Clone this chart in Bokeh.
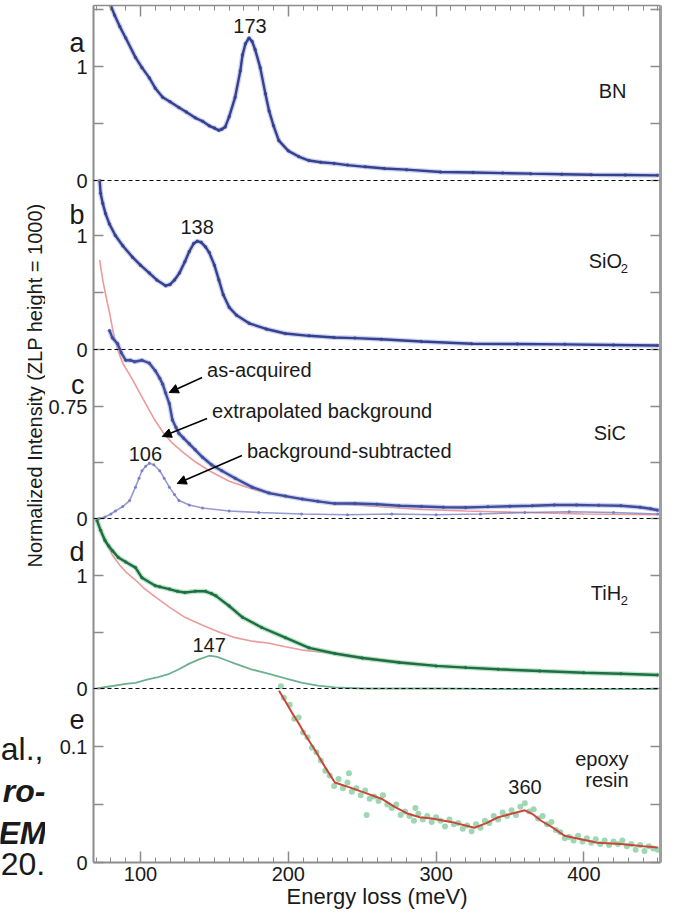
import math
from bokeh.plotting import figure
from bokeh.layouts import row
from bokeh.models import Range1d, LinearAxis, FixedTicker, Label, Arrow, NormalHead, Span
from bokeh.embed import file_html
from bokeh.resources import INLINE

# ---------------- data: energy loss (meV) and normalized intensity ----------------
# (a) BN
bn_energy = [80, 82.5, 86, 90, 96.6, 101, 106, 110, 115, 120, 126, 131, 137, 142, 146.5, 150, 153, 155,
             157.3, 160, 164, 167.5, 169, 171, 173.4, 175.5, 177.5, 181, 184.5, 187, 190, 193.6, 200, 207,
             214, 222, 231, 240, 252, 265, 280, 303, 325, 345, 364, 385, 405, 428, 450]
bn_intensity = [1.53, 1.45, 1.35, 1.25, 1.08, 0.99, 0.90, 0.81, 0.73, 0.69, 0.64, 0.60, 0.55, 0.52, 0.48, 0.46,
                0.44, 0.45, 0.47, 0.56, 0.73, 0.96, 1.10, 1.20, 1.25, 1.22, 1.15, 0.99, 0.76, 0.61, 0.48, 0.35,
                0.26, 0.21, 0.175, 0.16, 0.15, 0.135, 0.12, 0.105, 0.095, 0.075, 0.07, 0.065, 0.06, 0.055,
                0.05, 0.048, 0.045]

# (b) SiO2
sio2_energy = [72.4, 73, 74.5, 76.4, 79, 83, 88, 94.6, 100, 106, 111, 117, 120, 123, 126.3, 130, 133, 136,
               138.4, 141, 144, 146.5, 150, 153, 156, 160, 165, 173.5, 185, 198, 214, 231, 245, 263, 290,
               324, 355, 387, 420, 450]
sio2_intensity = [1.48, 1.37, 1.28, 1.19, 1.10, 1.00, 0.91, 0.81, 0.74, 0.67, 0.61, 0.56, 0.57, 0.61, 0.67,
                  0.77, 0.86, 0.93, 0.95, 0.94, 0.90, 0.85, 0.74, 0.61, 0.48, 0.37, 0.30, 0.23, 0.18, 0.14,
                  0.12, 0.105, 0.10, 0.09, 0.07, 0.05, 0.048, 0.045, 0.04, 0.035]

# (c) SiC: as-acquired, extrapolated background, background-subtracted
sic_energy = [79, 81, 84.5, 87, 90, 93, 96, 101, 106, 110, 113, 115, 117, 119.5, 121.6, 124, 126, 129, 133,
              137, 142, 148, 155, 164, 175.5, 187, 198, 209.5, 220, 231.5, 245, 260, 275, 290, 305, 320,
              335, 350, 365, 380, 395, 410, 425, 438, 445, 450]
sic_acquired = [1.26, 1.21, 1.17, 1.11, 1.06, 1.06, 1.05, 1.06, 1.04, 0.99, 0.94, 0.90, 0.84, 0.77, 0.66,
                0.61, 0.57, 0.54, 0.50, 0.46, 0.41, 0.36, 0.32, 0.27, 0.21, 0.17, 0.15, 0.13, 0.115, 0.10,
                0.10, 0.095, 0.085, 0.08, 0.075, 0.074, 0.078, 0.082, 0.085, 0.09, 0.09, 0.088, 0.085, 0.075,
                0.065, 0.055]
sic_bg_energy = [72.4, 74.4, 77, 79, 81.5, 84.5, 88, 91, 94.6, 99, 103.5, 109, 115, 121, 128, 137, 146.5,
                 160, 175, 187, 210, 231, 260, 290, 320, 360, 400, 450]
sic_background = [1.73, 1.60, 1.47, 1.38, 1.25, 1.13, 1.04, 0.99, 0.93, 0.85, 0.77, 0.67, 0.58, 0.51, 0.45,
                  0.38, 0.32, 0.25, 0.20, 0.17, 0.13, 0.10, 0.08, 0.06, 0.05, 0.04, 0.03, 0.025]
sic_sub_energy = [72, 76, 80, 83, 88, 92.6, 96.6, 99, 101, 103.5, 106, 109, 113, 116, 119.5, 123, 126, 133,
                  142, 160, 180, 209, 240, 270, 300, 330, 360, 390, 420, 450]
sic_subtracted = [0.0, 0.01, 0.03, 0.05, 0.08, 0.12, 0.21, 0.27, 0.32, 0.35, 0.37, 0.36, 0.32, 0.27, 0.21,
                  0.16, 0.12, 0.09, 0.07, 0.05, 0.04, 0.03, 0.025, 0.03, 0.025, 0.03, 0.04, 0.045, 0.04, 0.03]

# (d) TiH2
tih2_energy = [70.5, 73, 76, 78.5, 81, 85, 90, 96.6, 101, 110, 113, 119.5, 125, 130, 137, 144, 148, 151, 160,
               169, 182, 198, 214, 231.5, 250, 275, 300, 320, 342, 370, 400, 425, 450]
tih2_acquired = [1.49, 1.40, 1.31, 1.26, 1.22, 1.16, 1.12, 1.07, 0.98, 0.91, 0.90, 0.88, 0.86, 0.85, 0.86,
                 0.86, 0.84, 0.82, 0.73, 0.63, 0.54, 0.45, 0.36, 0.31, 0.27, 0.23, 0.20, 0.185, 0.17, 0.155,
                 0.14, 0.13, 0.12]
tih2_bg_energy = [70.5, 74, 77, 81, 86, 91, 96.6, 103, 110, 119.5, 130, 142, 153, 164, 175, 187, 198, 209.5,
                  220, 231.5, 260, 300, 350, 400, 450]
tih2_background = [1.49, 1.36, 1.28, 1.18, 1.09, 1.02, 0.96, 0.88, 0.81, 0.72, 0.63, 0.56, 0.50, 0.45, 0.42,
                   0.40, 0.37, 0.34, 0.325, 0.31, 0.26, 0.20, 0.165, 0.14, 0.12]
tih2_sub_energy = [70.5, 80, 90, 96.6, 105, 112, 119.5, 126, 133, 140, 146.5, 152, 158, 164, 175, 187, 198,
                   209.5, 220, 231.5, 250, 300, 350, 400, 450]
tih2_subtracted = [0.0, 0.02, 0.04, 0.05, 0.08, 0.10, 0.13, 0.17, 0.22, 0.26, 0.29, 0.28, 0.25, 0.22, 0.17,
                   0.13, 0.09, 0.05, 0.025, 0.01, 0.0, 0.0, -0.005, -0.005, -0.005]

# (e) epoxy resin: measured points and smoothed curve
epoxy_energy = [195, 197, 201, 204, 207, 210, 213, 216, 219, 222, 225, 228, 231, 234, 237, 240, 241, 243,
                246, 249, 252, 253, 255, 258, 261, 264, 267, 270, 273, 276, 279, 282, 285, 286, 288, 291,
                294, 297, 300, 303, 306, 309, 312, 315, 318, 321, 324, 327, 330, 333, 336, 339, 342, 345,
                348, 351, 354, 357, 360, 363, 366, 369, 372, 375, 378, 381, 384, 387, 390, 393, 396, 399,
                402, 405, 408, 411, 414, 417, 420, 423, 426, 429, 432, 435, 438, 441, 444, 447, 450]
epoxy_points = [0.152, 0.142, 0.136, 0.124, 0.125, 0.112, 0.108, 0.099, 0.095, 0.088, 0.079, 0.075, 0.066,
                0.072, 0.064, 0.069, 0.077, 0.061, 0.064, 0.058, 0.062, 0.041, 0.055, 0.057, 0.053, 0.058,
                0.050, 0.047, 0.050, 0.041, 0.044, 0.040, 0.036, 0.047, 0.042, 0.037, 0.040, 0.035, 0.039,
                0.036, 0.031, 0.037, 0.033, 0.034, 0.029, 0.032, 0.027, 0.033, 0.030, 0.036, 0.034, 0.040,
                0.037, 0.043, 0.040, 0.045, 0.041, 0.048, 0.051, 0.044, 0.046, 0.038, 0.040, 0.033, 0.035,
                0.028, 0.026, 0.021, 0.022, 0.019, 0.023, 0.018, 0.021, 0.017, 0.020, 0.016, 0.019, 0.015,
                0.018, 0.016, 0.019, 0.014, 0.016, 0.011, 0.015, 0.010, 0.014, 0.012, 0.011]
epoxy_fit_energy = [193.7, 198, 202.5, 207, 211, 218, 225, 231.5, 236, 241, 252, 263, 272, 281, 289, 297, 310,
                    326, 334, 342, 351, 360, 365, 371, 379, 387, 398, 409, 425, 440, 450]
epoxy_fit = [0.148, 0.139, 0.129, 0.120, 0.111, 0.097, 0.082, 0.069, 0.067, 0.065, 0.060, 0.055, 0.048,
             0.042, 0.039, 0.038, 0.035, 0.030, 0.034, 0.039, 0.042, 0.045, 0.042, 0.036, 0.030, 0.023,
             0.020, 0.017, 0.016, 0.014, 0.013]

x_ticks = [100, 200, 300, 400]
panel_names = ["a", "b", "c", "d", "e"]
panel_ticks = {"a": [0, 0.5, 1, 1.5], "b": [0, 0.5, 1], "c": [0, 0.375, 0.75], "d": [0, 0.5, 1],
               "e": [0, 0.05, 0.1]}
panel_tick_labels = {"a": ["0", "", "1", ""], "b": ["0", "", "1"], "c": ["0", "", "0.75"],
                     "d": ["0", "", "1"], "e": ["0", "", "0.1"]}

# ---------------- layout ----------------
W, H = 674, 914
STRIP = 45                                # width of the left text strip
FL, FR, FT, FB = 91, 660, 5, 862          # frame edges in page pixels
X0, X1 = 68.2, 451.8                      # energy range shown
# zero-line pixel row and pixels per unit for each stacked panel
PANEL_LAYOUT = {"a": (180, 114.0), "b": (349, 114.0), "c": (518, 149.3), "d": (688, 113.0), "e": (862, 1160.0)}
LETTER_ROWS = {"a": 42, "b": 214, "c": 384, "d": 551, "e": 719}

FONT = "Liberation Sans"
INK = "#1a1a1a"


def mx(px):
    return X0 + (px - FL) * (X1 - X0) / (FR - FL)


def my(py):
    return FB - py


p = figure(width=W - STRIP, height=H, output_backend="svg", toolbar_location=None,
           x_range=Range1d(X0, X1), y_range=Range1d(0, FB - FT),
           min_border_left=FL - STRIP, min_border_right=W - FR, min_border_top=FT, min_border_bottom=H - FB,
           x_axis_type=None, y_axis_type=None)
p.outline_line_color = None
p.grid.visible = False

for name in panel_names:
    z, s = PANEL_LAYOUT[name]
    p.extra_y_ranges[name] = Range1d(start=-(FB - z) / s, end=(z - FT) / s)

# y ticks in frame units
ytick_pos = []
ytick_lab = {}
for name in panel_names:
    z, s = PANEL_LAYOUT[name]
    for v, lab in zip(panel_ticks[name], panel_tick_labels[name]):
        pos = int(round((FB - z) + v * s))
        ytick_pos.append(pos)
        ytick_lab[pos] = lab

AX_COL = "#8c8c8c"

left = LinearAxis(ticker=FixedTicker(ticks=ytick_pos, minor_ticks=[]), major_label_overrides=ytick_lab)
left.major_tick_in = 10
left.major_tick_out = 0
left.major_label_standoff = 6
left.major_label_text_font = FONT
left.major_label_text_font_size = "20px"
left.major_label_text_color = INK
left.axis_line_color = AX_COL
left.axis_line_width = 2
left.major_tick_line_color = AX_COL
left.major_tick_line_width = 1.5
p.add_layout(left, "left")

# panel letters, set as labels of a second left axis pulled back next to the frame
letter_pos = {int(my(LETTER_ROWS[n])): n for n in panel_names}
letters = LinearAxis(ticker=FixedTicker(ticks=list(letter_pos.keys()), minor_ticks=[]),
                     major_label_overrides=letter_pos)
letters.axis_line_color = None
letters.major_tick_line_color = None
letters.major_tick_in = 0
letters.major_tick_out = 0
letters.major_label_standoff = -39
letters.major_label_text_font = FONT
letters.major_label_text_font_size = "27px"
letters.major_label_text_color = INK
p.add_layout(letters, "left")

right = LinearAxis(ticker=FixedTicker(ticks=ytick_pos, minor_ticks=[]),
                   major_label_overrides={k: "" for k in ytick_pos})
right.major_tick_in = 10
right.major_tick_out = 0
right.major_label_text_font_size = "0px"
right.major_label_standoff = 0
right.axis_line_color = "#a0a0a0"
right.axis_line_width = 3
right.major_tick_line_color = AX_COL
right.major_tick_line_width = 1.5
p.add_layout(right, "right")

minor_x = list(range(70, 451, 10))
bottom = LinearAxis(ticker=FixedTicker(ticks=x_ticks, minor_ticks=minor_x), axis_label="Energy loss (meV)")
bottom.major_tick_in = 11
bottom.major_tick_out = 0
bottom.minor_tick_in = 5
bottom.minor_tick_out = 0
bottom.major_label_standoff = 4
bottom.major_label_text_font = FONT
bottom.major_label_text_font_size = "20px"
bottom.major_label_text_color = INK
bottom.axis_label_text_font = FONT
bottom.axis_label_text_font_size = "22px"
bottom.axis_label_text_font_style = "normal"
bottom.axis_label_text_color = INK
bottom.axis_label_standoff = 0
bottom.axis_line_color = AX_COL
bottom.axis_line_width = 2
bottom.major_tick_line_color = AX_COL
bottom.major_tick_line_width = 1.5
bottom.minor_tick_line_color = AX_COL
bottom.minor_tick_line_width = 1
p.add_layout(bottom, "below")

top = LinearAxis(ticker=FixedTicker(ticks=x_ticks, minor_ticks=minor_x),
                 major_label_overrides={k: "" for k in x_ticks})
top.major_tick_in = 11
top.major_tick_out = 0
top.minor_tick_in = 5
top.minor_tick_out = 0
top.major_label_standoff = 0
top.major_label_text_font_size = "0px"
top.axis_line_color = AX_COL
top.axis_line_width = 1.5
top.major_tick_line_color = AX_COL
top.major_tick_line_width = 1.5
top.minor_tick_line_color = AX_COL
top.minor_tick_line_width = 1
p.add_layout(top, "above")

# dashed zero lines
for name in ["a", "b", "c", "d"]:
    z, s = PANEL_LAYOUT[name]
    p.add_layout(Span(location=FB - z, dimension="width", line_color="black", line_width=1,
                      line_dash="4 3"))

BLUE = "#34418f"
BLUE_HALO = "#a7aee0"
PURPLE = "#7d80c6"
PINK = "#ec9a9a"
GREEN = "#1f6e42"
GREEN_HALO = "#86cfa2"
LGREEN = "#6fb08f"


def thick_curve(x, y, rng, col, halo):
    p.line(x, y, y_range_name=rng, line_color=halo, line_width=5, line_alpha=0.55)
    p.line(x, y, y_range_name=rng, line_color=col, line_width=2.4)
    p.scatter(x, y, y_range_name=rng, size=3.5, fill_color=col, line_color=None, alpha=0.8)


# (a)
thick_curve(bn_energy, bn_intensity, "a", BLUE, BLUE_HALO)
# (b)
thick_curve(sio2_energy, sio2_intensity, "b", BLUE, BLUE_HALO)
# (c)
p.line(sic_bg_energy, sic_background, y_range_name="c", line_color=PINK, line_width=1.6)
p.line(sic_sub_energy, sic_subtracted, y_range_name="c", line_color=PURPLE, line_width=1.6, line_alpha=0.8)
p.scatter(sic_sub_energy, sic_subtracted, y_range_name="c", size=3, fill_color=PURPLE, line_color=None)
thick_curve(sic_energy, sic_acquired, "c", "#3f4c9c", BLUE_HALO)
# (d)
p.line(tih2_bg_energy, tih2_background, y_range_name="d", line_color=PINK, line_width=1.6)
p.line(tih2_sub_energy, tih2_subtracted, y_range_name="d", line_color=LGREEN, line_width=1.8)
thick_curve(tih2_energy, tih2_acquired, "d", GREEN, GREEN_HALO)
# (e)
p.scatter(epoxy_energy, epoxy_points, y_range_name="e", size=6, fill_color="#93d3aa", line_color=None,
          alpha=0.9)
p.line(epoxy_fit_energy, epoxy_fit, y_range_name="e", line_color="#c8473a", line_width=2)


def label(px, py, text, size="20px", align="left", baseline="middle", style="normal"):
    p.add_layout(Label(x=mx(px), y=my(py), text=text, text_font=FONT, text_font_size=size,
                       text_align=align, text_baseline=baseline, text_font_style=style, text_color=INK))


# peak positions
label(248, 25, "173", align="center")
label(195, 226, "138", align="center")
label(143, 453, "106", align="center")
label(207, 644, "147", align="center")
label(524, 786, "360", align="center")

# sample names
label(598, 90, "BN")
label(588, 260, "SiO")
label(620, 268, "2", size="13px")
label(593, 432, "SiC")
label(590, 592, "TiH")
label(620, 600, "2", size="13px")
label(628, 758, "epoxy", align="right")
label(628, 779, "resin", align="right")

# curve annotations in (c)
label(205, 369, "as-acquired")
label(210, 410, "extrapolated background")
label(245, 450, "background-subtracted")
for (sx, sy, ex, ey) in [(200, 377, 167, 392), (205, 418, 160, 436), (240, 455, 175, 483)]:
    p.add_layout(Arrow(end=NormalHead(size=9, fill_color="black", line_color="black", line_width=1),
                       x_start=mx(sx), y_start=my(sy), x_end=mx(ex), y_end=my(ey),
                       line_color="black", line_width=1.5))

# ---------------- left strip: y title and text fragments behind the figure ----------------
# its frame lines up with the main frame rows FT..FB, so page rows map directly
strip = figure(width=STRIP, height=H, output_backend="svg", toolbar_location=None,
               x_range=Range1d(0, STRIP), y_range=Range1d(FB, FT), min_border=0,
               x_axis_type=None, y_axis_type=None)
strip.outline_line_color = None
strip.grid.visible = False


def slabel(px, py, text, size, align="left", baseline="middle", style="normal", angle=0.0):
    strip.add_layout(Label(x=px, y=py, text=text, text_font=FONT, text_font_size=size, text_align=align,
                           text_baseline=baseline, text_font_style=style, text_color=INK, angle=angle))


slabel(34, 385, "Normalized Intensity (ZLP height = 1000)", "20px", align="center", angle=math.pi / 2)
slabel(43, 748, "al.,", "32px", align="right", baseline="alphabetic")
slabel(45, 790, "ro-", "32px", align="right", baseline="alphabetic", style="bold italic")
slabel(46, 832, "EM", "32px", align="right", baseline="alphabetic", style="bold italic")

# the last fragment lies below the frame rows, so it is set as a label of the strip's bottom axis
frag = LinearAxis(ticker=FixedTicker(ticks=[22], minor_ticks=[]), major_label_overrides={22: "20."})
frag.axis_line_color = None
frag.major_tick_line_color = None
frag.major_tick_in = 0
frag.major_tick_out = 0
frag.major_label_standoff = -10
frag.major_label_text_font = FONT
frag.major_label_text_font_size = "32px"
frag.major_label_text_color = INK
strip.add_layout(frag, "below")

layout = row(strip, p, spacing=0)
open("out.html", "w").write(file_html(layout, INLINE))
